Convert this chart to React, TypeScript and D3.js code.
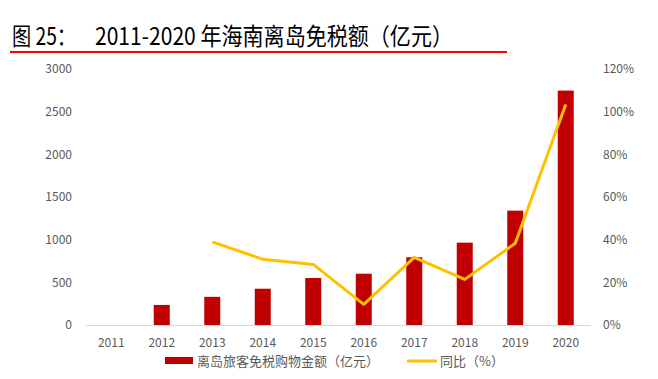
import React from "react";
import * as d3 from "d3";

const years = ["2011", "2012", "2013", "2014", "2015", "2016", "2017", "2018", "2019", "2020"];
const amount: (number | null)[] = [null, 235, 330, 425, 551, 601, 794, 965, 1340, 2747];
const growth: (number | null)[] = [null, null, 39, 30.8, 28.4, 9.7, 31.7, 21.4, 38.3, 103.4];
const leftTicks = [0, 500, 1000, 1500, 2000, 2500, 3000];
const rightTicks = [0, 20, 40, 60, 80, 100, 120];
const titleA = "图 25：";
const titleB = "2011-2020 年海南离岛免税额（亿元）";
const legendBar = "离岛旅客免税购物金额（亿元）";
const legendLine = "同比（%）";

const W = 658;
const H = 379;
const plotL = 86;
const plotR = 591;
const plotT = 69;
const plotB = 325;
const font = "'Noto Sans CJK SC', 'Noto Sans', sans-serif";

export default function App() {
  const x = d3.scaleBand<string>().domain(years).range([plotL, plotR]).paddingInner(0).paddingOuter(0);
  const yL = d3.scaleLinear().domain([0, 3000]).range([plotB, plotT]);
  const yR = d3.scaleLinear().domain([0, 120]).range([plotB, plotT]);
  const barW = 16;

  const lineData = years
    .map((y, i) => ({ y, v: growth[i] }))
    .filter((d) => d.v !== null) as { y: string; v: number }[];
  const line = d3
    .line<{ y: string; v: number }>()
    .x((d) => (x(d.y) as number) + x.bandwidth() / 2)
    .y((d) => yR(d.v));

  return (
    <svg width={W} height={H} style={{ position: "absolute", left: 0, top: 0 }}>
      <rect width={W} height={H} fill="#fff" />
      <text x={12} y={45} fontFamily={font} fontSize={24} fill="#000" fontWeight={400} textLength={64} lengthAdjust="spacingAndGlyphs">
        {titleA}
      </text>
      <text x={95} y={45} fontFamily={font} fontSize={24} fill="#000" fontWeight={400} textLength={358} lengthAdjust="spacingAndGlyphs">
        {titleB}
      </text>
      <line x1={10} x2={507} y1={52} y2={52} stroke="#ff0000" strokeWidth={2} />

      {leftTicks.map((t) => (
        <text key={"l" + t} x={72} y={yL(t)} dy="0.35em" textAnchor="end" fontFamily={font} fontSize={12} fill="#595959">
          {t}
        </text>
      ))}
      {rightTicks.map((t) => (
        <text key={"r" + t} x={603} y={yR(t)} dy="0.35em" textAnchor="start" fontFamily={font} fontSize={12} fill="#595959">
          {t + "%"}
        </text>
      ))}

      {years.map((y, i) =>
        amount[i] === null ? null : (
          <rect
            key={"b" + y}
            x={(x(y) as number) + x.bandwidth() / 2 - barW / 2}
            y={yL(amount[i] as number)}
            width={barW}
            height={plotB - yL(amount[i] as number)}
            fill="#C00000"
          />
        )
      )}
      <line x1={plotL} x2={plotR} y1={plotB + 0.5} y2={plotB + 0.5} stroke="#d9d9d9" strokeWidth={1} />
      <path d={line(lineData) || ""} fill="none" stroke="#FFC000" strokeWidth={3} strokeLinejoin="round" />

      {years.map((y) => (
        <text key={"x" + y} x={(x(y) as number) + x.bandwidth() / 2} y={343} dy="0.35em" textAnchor="middle" fontFamily={font} fontSize={12} fill="#595959">
          {y}
        </text>
      ))}

      <rect x={165} y={357} width={28} height={7} fill="#C00000" />
      <text x={197} y={361} dy="0.35em" fontFamily={font} fontSize={13} fill="#595959">
        {legendBar}
      </text>
      <line x1={407} x2={437} y1={361} y2={361} stroke="#FFC000" strokeWidth={3} />
      <text x={440} y={361} dy="0.35em" fontFamily={font} fontSize={13} fill="#595959">
        {legendLine}
      </text>
    </svg>
  );
}
